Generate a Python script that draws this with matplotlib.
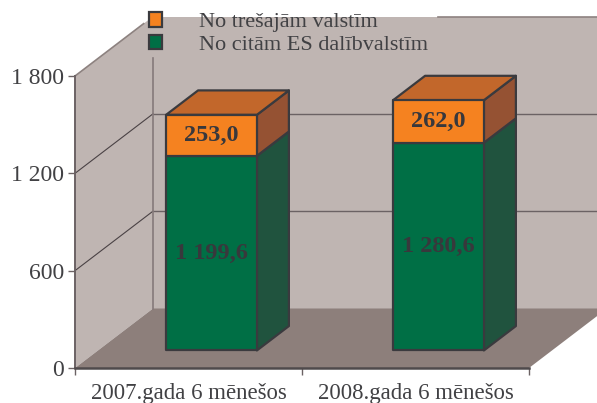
import matplotlib
matplotlib.use('Agg')
import matplotlib.pyplot as plt
from matplotlib.patches import Patch

plt.rcParams['font.family'] = ['Liberation Serif', 'DejaVu Serif']

categories = ['2007.gada 6 mēnešos', '2008.gada 6 mēnešos']
other_eu = [1199.6, 1280.6]
third_countries = [253.0, 262.0]
other_eu_labels = ['1 199,6', '1 280,6']
third_labels = ['253,0', '262,0']
y_ticks = [0, 600, 1200, 1800]
y_tick_labels = ['0', '600', '1 200', '1 800']
legend_labels = ['No trešajām valstīm', 'No citām ES dalībvalstīm']

WALL = '#bfb5b2'
FLOOR = '#8d7f7b'
ORANGE = '#f58220'
ORANGE_TOP = '#c2672b'
ORANGE_SIDE = '#955233'
GREEN = '#006f45'
GREEN_SIDE = '#20533e'
EDGE = '#3a3a3e'
TEXT = '#414144'
BOLD_TEXT = '#38383c'
AXIS = '#6b6264'

# fake 3d: how far the back wall is shifted, in data units
DX = 78 / 227
DY = 59.5 / (292 / 1800)
BAR_WIDTH = 0.4
BAR_FRONT = 0.295
BAR_BACK = 0.705


def proj(x, y, depth):
    return x + DX * depth, y + DY * depth


def face(ax, points, color, edge='none', lw=0, zorder=2):
    xs = [p[0] for p in points]
    ys = [p[1] for p in points]
    ax.fill(xs, ys, facecolor=color, edgecolor=edge, linewidth=lw, zorder=zorder,
            clip_on=False, joinstyle='round')


def draw_segment(ax, x, bottom, top, front, side, top_color=None):
    x0 = x - BAR_WIDTH / 2
    x1 = x + BAR_WIDTH / 2
    fl = proj(x0, bottom, BAR_FRONT)
    fr = proj(x1, bottom, BAR_FRONT)
    tl = proj(x0, top, BAR_FRONT)
    tr = proj(x1, top, BAR_FRONT)
    br = proj(x1, bottom, BAR_BACK)
    btr = proj(x1, top, BAR_BACK)
    btl = proj(x0, top, BAR_BACK)
    face(ax, [fr, br, btr, tr], side, EDGE, 1.6, 4)
    if top_color:
        face(ax, [tl, tr, btr, btl], top_color, EDGE, 1.6, 4)
    face(ax, [fl, fr, tr, tl], front, EDGE, 1.6, 5)


fig = plt.figure(figsize=(5.97, 4.03), dpi=100)
ax = fig.add_axes([75 / 597, 35 / 403, 454 / 597, 292 / 403])
ax.set_xlim(0, 2)
ax.set_ylim(0, 1800)
ax.patch.set_alpha(0)

# walls and floor
top = y_ticks[-1]
face(ax, [proj(0, 0, 0), proj(0, 0, 1), proj(0, top, 1), proj(0, top, 0)], WALL, zorder=1)
face(ax, [proj(0, 0, 1), proj(2, 0, 1), proj(2, top, 1), proj(0, top, 1)], WALL, zorder=1)
face(ax, [proj(0, 0, 0), proj(2, 0, 0), proj(2, 0, 1), proj(0, 0, 1)], FLOOR, zorder=1)

# grid lines run along the side wall and the back wall
for v in y_ticks[1:3]:
    ax.plot([proj(0, v, 0)[0], proj(0, v, 1)[0]], [proj(0, v, 0)[1], proj(0, v, 1)[1]],
            color='#4a4245', lw=0.8, zorder=2, clip_on=False)
    ax.plot([proj(0, v, 1)[0], proj(2, v, 1)[0]], [proj(0, v, 1)[1], proj(2, v, 1)[1]],
            color=AXIS, lw=1.0, zorder=2, clip_on=False)

# back corner stops under the legend, so do the top edges
ax.plot([proj(0, 0, 1)[0]] * 2, [proj(0, 0, 1)[1], 1911], color='#85797a', lw=1.2, zorder=2,
        clip_on=False)
ax.plot([proj(0, top, 0)[0], proj(0, top, 0.88)[0]], [proj(0, top, 0)[1], proj(0, top, 0.88)[1]],
        color='#8d8280', lw=1.2, zorder=2, clip_on=False)
ax.plot([1.6, proj(2, top, 1)[0]], [proj(0, top, 1)[1]] * 2, color='#8d8280', lw=1.2, zorder=2,
        clip_on=False)

for i in range(len(categories)):
    x = i + 0.5
    total = other_eu[i] + third_countries[i]
    draw_segment(ax, x, 0, other_eu[i], GREEN, GREEN_SIDE)
    draw_segment(ax, x, other_eu[i], total, ORANGE, ORANGE_SIDE, ORANGE_TOP)
    cx, _ = proj(x, 0, BAR_FRONT)
    _, cy1 = proj(x, other_eu[i] + third_countries[i] / 2, BAR_FRONT)
    _, cy2 = proj(x, other_eu[i] * 0.5, BAR_FRONT)
    ax.text(cx, cy1, third_labels[i], ha='center', va='center', fontsize=17.5, fontweight='bold',
            color=BOLD_TEXT, zorder=6)
    ax.text(cx, cy2, other_eu_labels[i], ha='center', va='center', fontsize=17.5,
            fontweight='bold', color=BOLD_TEXT, zorder=6)

# axes
for s in ['top', 'right']:
    ax.spines[s].set_visible(False)
ax.spines['left'].set_color(AXIS)
ax.spines['left'].set_linewidth(1.4)
ax.spines['left'].set_zorder(3)
ax.spines['bottom'].set_color('#4f4a4c')
ax.spines['bottom'].set_linewidth(1.8)
ax.spines['bottom'].set_zorder(3)
ax.set_yticks(y_ticks)
ax.set_yticklabels(y_tick_labels)
ax.set_xticks([0, 1, 2])
ax.set_xticklabels([])
ax.set_xticks([0.5, 1.5], minor=True)
ax.set_xticklabels(categories, minor=True)
ax.tick_params(axis='both', which='major', length=5, width=1, color=AXIS)
ax.tick_params(axis='y', labelsize=17, labelcolor=TEXT, pad=3)
ax.tick_params(axis='x', which='minor', length=0, labelsize=16.4, labelcolor=TEXT, pad=11)

handles = [Patch(facecolor=ORANGE, edgecolor=EDGE, linewidth=1.6),
           Patch(facecolor=GREEN, edgecolor=EDGE, linewidth=1.6)]
leg = fig.legend(handles, legend_labels, loc='upper left', bbox_to_anchor=(133 / 597, 1.008),
                 frameon=False, fontsize=16, labelcolor=TEXT, handlelength=0.62, handleheight=0.62,
                 handletextpad=1.65, labelspacing=0.1, borderpad=0.2)
leg.set_zorder(10)

fig.savefig('out.png', dpi=100)
